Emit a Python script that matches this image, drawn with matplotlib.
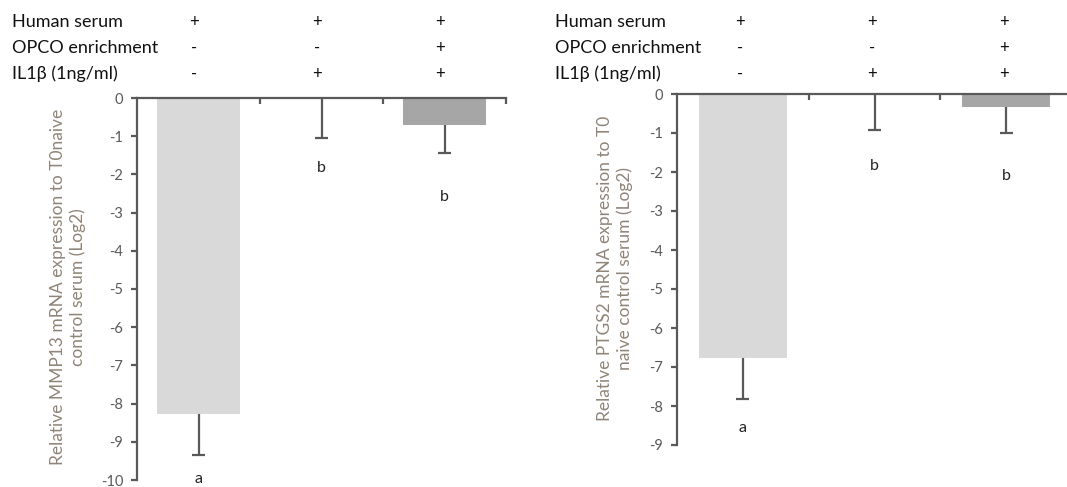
import matplotlib
matplotlib.use("Agg")
import matplotlib.pyplot as plt
import matplotlib.transforms as mtransforms

plt.rcParams['font.family'] = ['Lato', 'DejaVu Sans']
plt.rcParams['axes.unicode_minus'] = False

# conditions (rows of the header table)
row_names = ["Human serum", "OPCO enrichment", "IL1\u03b2 (1ng/ml)"]
human_serum = ["+", "+", "+"]
opco = ["-", "-", "+"]
il1b = ["-", "+", "+"]

# MMP13 panel
mmp13_vals = [-8.27, 0.0, -0.71]
mmp13_err = [1.08, 1.05, 0.73]
mmp13_letters = ["a", "b", "b"]
mmp13_letter_y = [-10.15, -1.83, -2.6]

# PTGS2 panel
ptgs2_vals = [-6.78, 0.0, -0.33]
ptgs2_err = [1.05, 0.92, 0.68]
ptgs2_letters = ["a", "b", "b"]
ptgs2_letter_y = [-8.56, -1.85, -2.1]

bar_colors = ["#d9d9d9", "#d9d9d9", "#a6a6a6"]
axis_col = "#595959"
label_col = "#8f8477"

W, H = 1067, 487
fig = plt.figure(figsize=(W / 100, H / 100), dpi=100)


def px(x, y):
    return x / W, 1 - y / H


def panel(rect, vals, errs, letters, letter_y, ymin, ylabel, lab_x, lab_y, row_x, marks_x):
    ax = fig.add_axes(rect)
    xs = list(range(len(vals)))
    ax.bar(xs, vals, width=0.67, color=bar_colors, zorder=2)
    # error bars only downwards, cap at the lower end
    for x, v, e in zip(xs, vals, errs):
        ax.vlines(x, v - e, v, color=axis_col, lw=1.6, zorder=3)
        ax.hlines(v - e, x - 0.05, x + 0.05, color=axis_col, lw=1.6, zorder=3)
    for x, l, ly in zip(xs, letters, letter_y):
        va = 'bottom' if ly < ymin else 'center'
        ax.text(x, ly, l, ha='center', va=va, fontsize=11.5, color='#222222', clip_on=False)
    ax.set_xlim(-0.5, 2.5)
    ax.set_ylim(ymin, 0)
    ax.set_yticks(range(ymin, 1))
    ax.spines['bottom'].set_visible(False)
    ax.spines['right'].set_visible(False)
    ax.spines['left'].set_color(axis_col)
    ax.spines['top'].set_color(axis_col)
    ax.spines['left'].set_linewidth(1.6)
    ax.spines['top'].set_linewidth(1.6)
    ax.xaxis.tick_top()
    ax.set_xticks([0.5, 1.5, 2.5])
    ax.set_xticklabels([])
    ax.tick_params(axis='x', direction='in', length=4, width=1.6, color=axis_col)
    ax.tick_params(axis='y', direction='out', length=4, width=1.6, color=axis_col,
                   labelsize=10.5, labelcolor=axis_col, pad=6)
    fig.text(*px(lab_x, lab_y), ylabel, rotation=90, ha='center', va='center',
             fontsize=12.5, color=label_col, linespacing=1.3, multialignment='center')
    # header table
    tr = mtransforms.blended_transform_factory(ax.transData, fig.transFigure)
    rows_y = [22, 48, 74]
    for name, marks, yy in zip(row_names, [human_serum, opco, il1b], rows_y):
        fig.text(*px(row_x, yy), name, ha='left', va='center', fontsize=13, color='#111111')
        for x, m in zip(xs, marks):
            ax.text(x + marks_x, 1 - yy / H, m, transform=tr, ha='center', va='center',
                    fontsize=12, color='#111111')
    return ax


panel([137 / W, 1 - 480 / H, 369 / W, 382 / H], mmp13_vals, mmp13_err, mmp13_letters,
      mmp13_letter_y, -10,
      "Relative MMP13 mRNA expression to T0naive\ncontrol serum (Log2)",
      68, 287, 12, -0.04)
panel([677 / W, 1 - 445 / H, 395 / W, 351 / H], ptgs2_vals, ptgs2_err, ptgs2_letters,
      ptgs2_letter_y, -9,
      "Relative PTGS2 mRNA expression to T0\nnaive control serum (Log2)",
      615, 268, 555, -0.02)

fig.savefig("out.png", dpi=100)
